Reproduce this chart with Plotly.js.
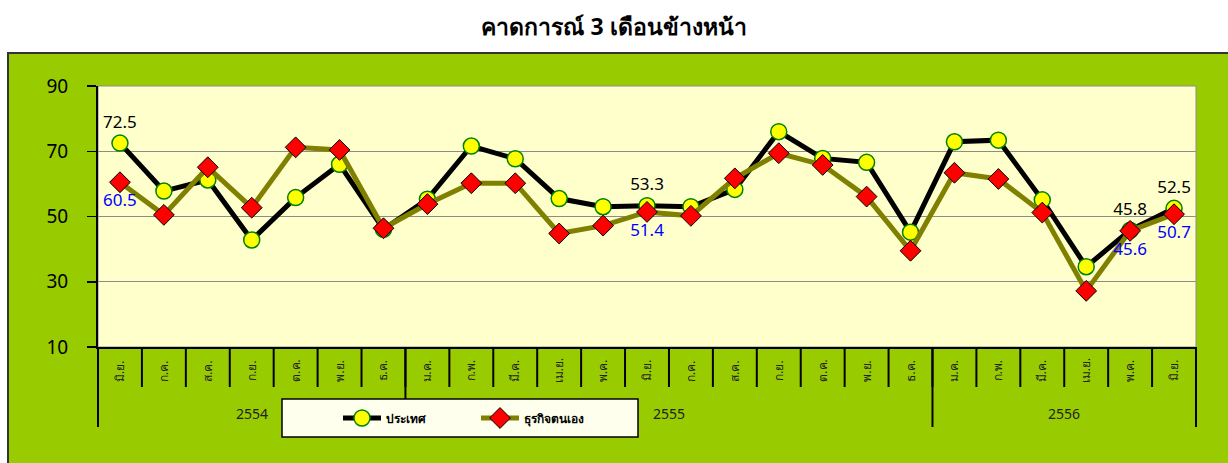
<!DOCTYPE html>
<html>
<head>
<meta charset="utf-8">
<script src="https://cdn.plot.ly/plotly-3.0.1.min.js"></script>
<style>html,body{margin:0;padding:0;background:#fff;}#chart{width:1228px;height:463px;}</style>
</head>
<body>
<div id="chart"></div>
<script>
const months = ['มิ.ย.','ก.ค.','ส.ค.','ก.ย.','ต.ค.','พ.ย.','ธ.ค.','ม.ค.','ก.พ.','มี.ค.','เม.ย.','พ.ค.','มิ.ย.','ก.ค.','ส.ค.','ก.ย.','ต.ค.','พ.ย.','ธ.ค.','ม.ค.','ก.พ.','มี.ค.','เม.ย.','พ.ค.','มิ.ย.'];
const years = ['2554','2555','2556'];
const monthsPerYear = [7, 12, 6];
const country = [72.5,57.8,61.2,42.8,55.8,66.0,46.1,55.3,71.6,67.7,55.5,53.0,53.3,53.0,58.3,76.0,67.8,66.6,45.2,72.9,73.4,55.1,34.6,45.8,52.5];
const business = [60.5,50.5,65.1,52.7,71.2,70.4,46.4,53.8,60.2,60.2,44.8,47.2,51.4,50.2,61.7,69.4,65.8,56.1,39.5,63.4,61.5,51.2,27.2,45.6,50.7];
const labelled = [0, 12, 23, 24];
const seriesNames = ['ประเทศ', 'ธุรกิจตนเอง'];
const titleText = 'คาดการณ์ 3 เดือนข้างหน้า';

const FONT = 'Tahoma, "Noto Sans", "DejaVu Sans", sans-serif';
const N = months.length;
const xs = months.map((m, i) => i);
const lab = arr => arr.map((v, i) => labelled.includes(i) ? v.toFixed(1) : '');

const traces = [
  {
    x: xs, y: country, name: seriesNames[0], type: 'scatter', mode: 'lines+markers+text',
    line: {color: '#000000', width: 5},
    marker: {symbol: 'circle', size: 16, color: '#FFFF00', line: {color: '#008000', width: 1.5}},
    text: lab(country), textposition: 'top center',
    textfont: {family: FONT, size: 17, color: '#000000'},
    cliponaxis: false
  },
  {
    x: xs, y: business, name: seriesNames[1], type: 'scatter', mode: 'lines+markers+text',
    line: {color: '#808000', width: 5},
    marker: {symbol: 'diamond', size: 16, color: '#FF0000', line: {color: '#000000', width: 1}},
    text: lab(business), textposition: 'bottom center',
    textfont: {family: FONT, size: 17, color: '#0000FF'},
    cliponaxis: false
  }
];

// pixel helpers for paper coordinates (plot area 98..1196 x, 86..347 y)
const PL = 98, PR = 1196, PT = 86, PB = 347;
const px = p => (p - PL) / (PR - PL);
const py = p => (PB - p) / (PB - PT);

const shapes = [
  {type: 'rect', xref: 'paper', yref: 'paper', x0: px(8), x1: px(1240), y0: py(480), y1: py(53),
   fillcolor: '#99CC00', line: {color: '#333333', width: 2}, layer: 'below'},
  {type: 'rect', xref: 'paper', yref: 'paper', x0: 0, x1: 1, y0: 0, y1: 1,
   fillcolor: '#FFFFCC', line: {color: '#8C8C8C', width: 1}, layer: 'below'}
];
const annotations = [];
// month ticks and labels
for (let i = 0; i <= N; i++) {
  shapes.push({type: 'line', xref: 'paper', yref: 'paper', x0: i / N, x1: i / N, y0: 0, y1: py(387),
    line: {color: '#000000', width: 2}});
}
months.forEach((m, i) => {
  annotations.push({xref: 'x', yref: 'paper', x: i, y: py(371), text: m, textangle: -90,
    showarrow: false, xanchor: 'center', yanchor: 'middle',
    font: {family: FONT, size: 12, color: '#222222'}});
});
// year dividers and labels
let start = 0;
years.forEach((yr, k) => {
  const end = start + monthsPerYear[k];
  annotations.push({xref: 'paper', yref: 'paper', x: (start + end) / 2 / N, y: py(413), text: yr,
    showarrow: false, xanchor: 'center', yanchor: 'middle',
    font: {family: FONT, size: 14, color: '#222222'}});
  shapes.push({type: 'line', xref: 'paper', yref: 'paper', x0: start / N, x1: start / N, y0: 0, y1: py(427),
    line: {color: '#000000', width: 2}});
  start = end;
});
shapes.push({type: 'line', xref: 'paper', yref: 'paper', x0: 1, x1: 1, y0: 0, y1: py(427),
  line: {color: '#000000', width: 2}});
// legend frame
shapes.push({type: 'rect', xref: 'paper', yref: 'paper', x0: px(282), x1: px(638), y0: py(437), y1: py(399),
  fillcolor: '#FFFFEE', line: {color: '#000000', width: 1.5}});

const layout = {
  width: 1228, height: 463,
  margin: {l: PL, r: 1228 - PR, t: PT, b: 463 - PB, pad: 0},
  paper_bgcolor: '#FFFFFF', plot_bgcolor: 'rgba(0,0,0,0)',
  font: {family: FONT, color: '#000000'},
  title: {text: titleText, font: {family: FONT, size: 23, color: '#000000', weight: 'bold'},
          xref: 'container', x: 0.5, xanchor: 'center', yref: 'container', y: 1 - 27 / 463, yanchor: 'middle'},
  xaxis: {range: [-0.5, N - 0.5], showgrid: false, zeroline: false, showticklabels: false,
          showline: true, linecolor: '#000000', linewidth: 2, ticks: '', fixedrange: true},
  yaxis: {range: [10, 90], dtick: 20, tick0: 10, showgrid: true, gridcolor: '#8C8C8C', gridwidth: 1,
          zeroline: false, showline: true, linecolor: '#000000', linewidth: 2,
          ticks: 'outside', ticklen: 9, tickwidth: 1.5, tickcolor: '#000000', ticklabelstandoff: 15,
          tickfont: {family: FONT, size: 19, color: '#000000'}, fixedrange: true},
  showlegend: true,
  legend: {orientation: 'h', x: px(338), xanchor: 'left', y: py(418), yanchor: 'middle',
           bgcolor: 'rgba(0,0,0,0)', borderwidth: 0, entrywidth: 85, entrywidthmode: 'pixels',
           itemwidth: 38,
           font: {family: FONT, size: 12, color: '#000000', weight: 'bold'}},
  shapes: shapes, annotations: annotations
};

Plotly.newPlot('chart', traces, layout, {displayModeBar: false, staticPlot: true});
</script>
</body>
</html>
